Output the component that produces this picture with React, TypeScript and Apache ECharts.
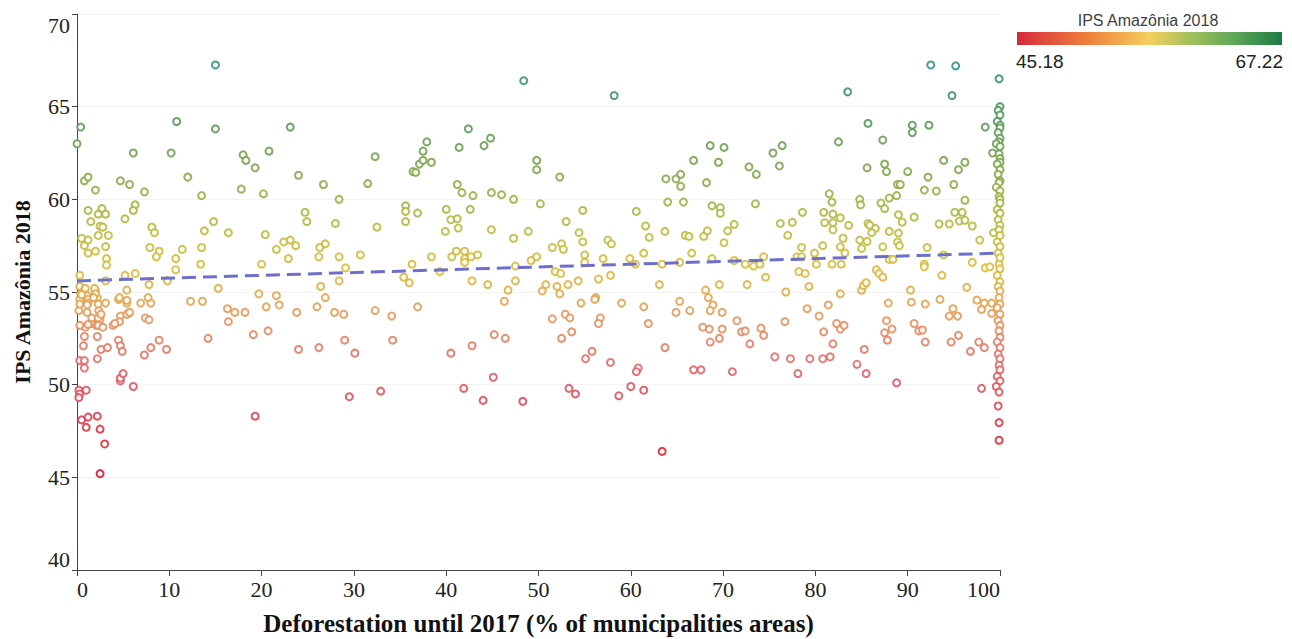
import React, { useEffect, useRef } from "react";
import * as echarts from "echarts";

// Deforestation (%) vs IPS Amazônia 2018
const pointsWest: number[][] = [
  [0.0, 63.0], [0.4, 63.9], [15.0, 67.25], [10.8, 64.2], [15.0, 63.8], [23.1, 63.9], [6.1, 62.5], [10.2, 62.5],
  [18.0, 62.4], [18.3, 62.1], [20.8, 62.6], [19.3, 61.7], [0.8, 61.0], [1.2, 61.2], [12.0, 61.2], [24.0, 61.3],
  [4.7, 61.0], [5.7, 60.8], [7.3, 60.4], [2.0, 60.5], [13.5, 60.2], [17.8, 60.55], [20.2, 60.3], [26.7, 60.8],
  [28.4, 60.0], [1.2, 59.4], [2.7, 59.5], [3.1, 59.2], [2.3, 59.2], [5.2, 58.95], [6.3, 59.7], [6.1, 59.4],
  [1.5, 58.8], [2.5, 58.55], [2.8, 58.5], [2.3, 58.05], [3.4, 58.05], [0.5, 57.9], [1.2, 57.8], [0.8, 57.5],
  [3.1, 57.45], [1.2, 57.1], [2.0, 57.2], [3.2, 56.8], [3.2, 56.45], [8.1, 58.5], [8.4, 58.2], [7.9, 57.4],
  [8.9, 57.2], [8.6, 56.9], [10.7, 56.8], [10.7, 56.2], [11.4, 57.3], [13.8, 58.3], [14.8, 58.8], [13.5, 57.4],
  [13.4, 56.5], [16.4, 58.2], [20.4, 58.1], [20.0, 56.5], [21.6, 57.3], [22.4, 57.7], [23.1, 57.8], [23.7, 57.5],
  [22.9, 56.8], [24.7, 59.3], [24.9, 58.8], [26.3, 57.4], [26.9, 57.6], [26.2, 56.9], [28.0, 58.7], [28.4, 56.9],
  [0.3, 55.9], [5.2, 55.9], [6.3, 56.0], [9.8, 55.6], [7.8, 55.4], [15.3, 55.2], [3.1, 55.6],
  [0.3, 55.3], [0.8, 55.1], [0.7, 54.9], [1.1, 54.8], [0.9, 55.2], [0.3, 54.6], [1.2, 54.6], [0.4, 54.9],
  [2.0, 55.1], [2.2, 54.7], [4.5, 54.6], [5.4, 55.1], [5.4, 54.4], [6.9, 54.4], [8.0, 54.4], [7.7, 54.7],
  [19.7, 54.9], [21.6, 54.8], [26.4, 55.3], [28.4, 55.6], [26.9, 54.7],
  [1.9, 55.2], [2.0, 54.9], [1.8, 54.7], [0.5, 54.85], [0.2, 54.0], [2.35, 54.0], [2.5, 53.5], [5.6, 53.85],
  [4.7, 53.7], [4.6, 53.4], [3.9, 53.2], [0.9, 53.1], [1.6, 53.3], [2.1, 53.2], [1.6, 53.6], [1.2, 54.4],
  [5.4, 54.55], [4.6, 54.7],
  [0.3, 54.35], [1.1, 54.3], [2.3, 54.35], [3.1, 54.4],
  [0.3, 53.2], [1.2, 53.25], [2.3, 53.2], [2.8, 53.1], [4.1, 53.3], [5.4, 53.8], [5.7, 53.9],
  [1.1, 53.9], [2.3, 53.6], [2.6, 53.8], [0.8, 52.6], [2.2, 52.6], [4.5, 52.4], [4.7, 52.1], [4.9, 51.8],
  [0.7, 52.1], [2.6, 51.9], [3.3, 52.0], [7.4, 53.6], [7.8, 53.5], [7.3, 51.6], [8.0, 52.0], [8.9, 52.4],
  [9.7, 51.9], [0.3, 51.3], [0.8, 51.3], [0.8, 50.9], [2.2, 51.4], [4.7, 50.2], [4.7, 50.35], [5.0, 50.6],
  [6.1, 49.9], [0.2, 49.7], [0.3, 49.5], [0.2, 49.3], [1.0, 49.7], [0.5, 48.1], [1.2, 48.25], [1.0, 47.7],
  [2.2, 48.3], [2.5, 47.6], [3.0, 46.8], [2.5, 45.2], [19.3, 48.3], [12.3, 54.5], [13.6, 54.5], [16.3, 54.1],
  [17.1, 53.9], [18.2, 53.9], [16.4, 53.4], [20.5, 54.2], [21.9, 54.3], [23.8, 53.9], [26.0, 54.2], [27.9, 53.9],
  [14.2, 52.5], [19.1, 52.7], [20.7, 52.9], [24.0, 51.9], [26.2, 52.0],
];

const pointsCentre: number[][] = [
  [48.4, 66.4], [58.2, 65.6], [42.4, 63.8], [37.9, 63.1], [37.5, 62.6], [37.1, 61.9], [37.5, 62.1], [38.4, 62.0],
  [32.3, 62.3], [36.4, 61.5], [36.7, 61.45], [41.4, 62.8], [44.1, 62.9], [44.8, 63.3], [49.8, 62.1], [49.8, 61.6],
  [52.3, 61.2], [31.5, 60.85], [32.5, 58.5], [35.6, 59.65], [35.6, 59.35], [35.6, 58.8], [36.9, 59.26], [41.2, 60.8],
  [41.7, 60.36], [42.9, 60.2], [44.9, 60.36], [46.0, 60.25], [47.3, 60.0], [50.2, 59.76], [40.0, 59.46], [40.5, 58.9],
  [41.2, 58.95], [41.3, 58.45], [39.9, 58.27], [42.6, 59.46], [44.9, 58.36], [47.3, 57.9], [48.9, 58.27], [53.0, 58.8],
  [54.8, 59.4], [54.4, 58.2], [54.8, 57.7], [51.5, 57.4], [52.5, 57.6], [52.7, 57.3], [55.0, 57.0], [55.0, 56.6],
  [57.5, 57.8], [57.9, 57.6], [60.6, 59.35], [61.6, 58.56], [62.0, 57.95], [63.8, 61.1], [64.0, 59.85], [63.7, 58.27],
  [61.4, 57.1], [59.9, 56.8], [60.5, 56.5], [57.0, 56.8], [30.7, 57.0], [29.1, 56.3], [36.3, 56.5], [38.4, 56.9],
  [40.6, 56.9], [41.1, 57.2], [42.0, 57.2], [42.0, 56.8], [42.0, 56.6], [42.7, 56.9], [43.4, 57.0], [35.4, 55.8],
  [36.0, 55.5], [39.3, 56.1], [42.8, 55.6], [44.5, 55.4], [47.5, 56.4], [47.5, 55.6], [46.7, 55.1], [49.2, 56.7],
  [49.8, 56.9], [51.8, 56.1], [52.4, 56.0], [52.0, 55.3], [52.3, 54.9], [53.2, 55.4], [54.3, 55.6], [56.5, 55.7],
  [50.4, 55.05], [50.8, 55.4], [56.2, 54.7], [57.8, 55.9], [63.1, 55.4],
  [28.9, 53.8], [32.3, 54.0], [34.1, 53.7], [36.9, 54.2], [46.3, 54.5], [51.5, 53.55], [52.9, 53.8], [53.4, 53.6],
  [52.5, 52.5], [53.6, 52.85], [54.6, 54.4], [56.1, 54.6], [56.7, 53.6], [56.5, 53.3], [59.0, 54.4], [61.4, 54.2],
  [61.9, 53.3], [29.0, 52.4], [30.1, 51.7], [34.2, 52.4], [40.5, 51.7], [42.8, 52.1], [45.2, 52.7], [46.4, 52.5],
  [55.1, 51.4], [55.8, 51.8], [57.8, 51.2], [63.7, 52.0], [45.1, 50.4], [29.5, 49.35], [32.9, 49.65], [41.9, 49.8],
  [44.0, 49.15], [48.3, 49.1], [53.3, 49.8], [54.0, 49.5], [60.8, 50.9], [60.6, 50.7], [60.0, 49.9], [61.4, 49.7],
  [58.7, 49.4], [63.4, 46.4],
];

const pointsEast: number[][] = [
  [92.5, 67.25], [95.2, 67.2], [94.8, 65.6], [83.5, 65.8], [99.9, 66.5], [85.7, 64.1], [90.5, 64.0], [90.5, 63.6],
  [92.3, 64.0], [98.4, 63.9], [82.5, 63.1], [87.3, 63.2], [68.6, 62.9], [70.1, 62.8], [66.8, 62.1], [69.5, 62.0],
  [75.4, 62.5], [76.4, 62.9], [76.1, 61.8], [72.8, 61.75], [73.6, 61.35], [64.9, 61.1], [65.4, 61.35], [65.4, 60.7],
  [65.7, 59.85], [68.2, 60.9], [68.8, 59.65], [69.7, 59.55], [69.7, 59.25], [73.5, 59.76], [65.9, 58.06], [66.3, 58.0],
  [67.9, 58.0], [68.3, 58.3], [70.1, 57.66], [70.5, 58.3], [71.2, 58.65], [66.6, 57.1], [68.8, 56.8], [71.2, 56.7],
  [72.4, 56.5], [73.3, 56.4], [74.0, 56.5], [74.4, 56.9], [76.2, 58.7], [77.5, 58.76], [77.0, 58.06], [78.6, 59.3],
  [78.5, 57.4], [78.0, 56.9], [78.5, 56.9], [79.9, 57.1], [80.8, 57.5], [80.1, 56.5], [78.2, 56.1], [78.9, 56.0],
  [81.5, 60.3], [81.8, 59.85], [80.9, 59.3], [81.9, 59.2], [82.7, 59.0], [81.0, 58.74], [81.9, 58.74], [81.9, 58.36],
  [83.6, 58.6], [83.0, 57.9], [82.7, 57.44], [83.2, 57.1], [81.8, 56.5], [82.8, 56.5], [84.8, 60.0], [84.9, 59.7],
  [85.6, 61.7], [85.7, 58.7], [85.9, 58.6], [86.5, 58.43], [86.1, 58.2], [84.8, 57.8], [85.0, 57.35], [85.6, 57.73],
  [87.3, 57.44], [88.0, 56.76], [88.4, 56.76], [87.1, 59.8], [87.5, 59.5], [88.0, 60.07], [88.8, 60.2], [88.9, 60.8],
  [89.2, 60.8], [87.5, 61.9], [87.7, 61.5], [88.0, 58.27], [89.0, 59.17], [89.4, 58.77], [89.0, 58.18], [88.9, 57.7],
  [89.1, 57.5], [90.7, 59.04], [90.0, 61.5], [92.2, 61.2], [91.8, 60.5], [93.1, 60.45], [93.9, 62.1], [95.5, 61.6],
  [96.2, 62.0], [95.0, 60.8], [96.2, 59.95], [95.1, 59.3], [95.9, 59.3], [95.6, 58.83], [96.2, 58.87], [97.0, 58.56],
  [97.8, 57.8], [93.4, 58.67], [94.5, 58.67], [99.3, 58.2], [99.2, 62.5], [92.1, 57.4], [93.9, 57.0], [91.8, 56.5],
  [91.8, 56.36], [93.7, 55.9], [97.0, 56.6], [98.4, 56.3], [98.9, 56.36], [63.4, 56.5], [65.3, 56.6], [69.6, 55.4],
  [68.1, 55.1], [68.4, 54.7], [72.6, 55.4], [74.6, 55.8], [76.8, 55.0], [79.3, 55.3], [82.7, 54.9], [85.0, 55.1],
  [85.2, 55.35], [85.5, 55.5], [86.6, 56.2], [86.9, 56.0], [87.3, 55.8], [90.3, 55.1], [96.4, 55.25], [97.5, 54.56],
  [93.5, 54.6],
  [65.3, 54.5], [68.9, 54.3], [68.6, 54.0], [66.4, 54.0], [64.9, 53.9], [69.9, 53.9], [67.8, 53.1], [68.5, 53.0],
  [69.9, 53.0], [68.6, 52.3], [69.6, 52.5], [71.5, 53.45], [72.0, 52.85], [72.4, 52.9], [72.9, 52.2], [74.1, 53.05],
  [74.4, 52.66], [76.7, 53.4], [79.1, 54.1], [80.4, 53.7], [81.4, 54.3], [80.9, 52.85], [81.9, 52.2], [82.3, 53.3],
  [82.7, 53.0], [83.1, 53.2], [87.9, 54.4], [87.7, 53.45], [87.5, 52.8], [88.3, 53.0], [87.8, 52.4], [85.3, 51.9],
  [84.5, 51.1], [85.5, 50.6], [88.8, 50.1], [90.4, 54.45], [91.9, 54.35], [90.7, 53.3], [91.2, 52.9], [91.6, 52.95],
  [91.9, 52.3], [94.7, 52.3], [95.5, 52.66], [94.5, 53.7], [95.4, 53.7], [94.9, 54.1], [98.0, 54.06], [98.3, 54.4],
  [99.1, 53.85], [99.1, 54.4], [97.7, 52.3], [98.3, 52.0], [96.8, 51.8], [98.0, 49.8], [66.8, 50.8], [67.6, 50.8],
  [71.0, 50.7], [75.6, 51.5], [77.3, 51.4], [79.4, 51.4], [80.8, 51.4], [81.6, 51.5], [78.1, 50.6],
];

const pointsEdge: number[][] = [
  [100, 65.0], [99.8, 64.8], [100, 64.55], [99.7, 64.2], [100, 64.0], [100, 63.85], [99.8, 63.6], [100, 63.3],
  [99.9, 63.1], [99.6, 63.0], [100, 62.85], [99.9, 62.45], [100, 62.2], [100, 62.0], [99.7, 61.9], [100, 61.6],
  [99.8, 61.35], [100, 61.0], [99.9, 60.9], [99.6, 60.65], [100, 60.45], [99.9, 60.15], [100, 60.0], [100, 59.8],
  [99.7, 59.45], [100, 59.25], [99.8, 58.9], [100, 58.6], [99.9, 58.35], [100, 58.05], [99.7, 57.7], [100, 57.45],
  [99.8, 57.1], [100, 56.85], [99.9, 56.5], [100, 56.25], [99.7, 55.9], [100, 55.55], [99.8, 55.3], [100, 55.05],
  [99.9, 54.7], [100, 54.35], [99.7, 54.15], [100, 53.8], [99.8, 53.45], [100, 53.2], [99.9, 52.9], [100, 52.55],
  [99.7, 52.3], [100, 52.0], [99.8, 51.65], [100, 51.4], [99.9, 51.05], [100, 50.8], [99.7, 50.45], [100, 50.2],
  [99.6, 49.9], [99.9, 49.6], [99.8, 48.85], [99.9, 47.95], [99.9, 47.0],
];

const trendLine: number[][] = [[0, 55.6], [100, 57.1]];

const colorMin = 45.18;
const colorMax = 67.22;
const pointColors = ["#e6142a", "#e13a4a", "#df636c", "#e69660", "#dcbd3c", "#b3bb40", "#80a54e", "#55985e", "#2f9282"];
const legendStops = ["#d42a3c", "#ee7a3c", "#f5cf5e", "#a3c15c", "#5fa65a", "#1f7a45"];
const legendOffsets = [0, 0.25, 0.5, 0.65, 0.82, 1];
const legendTitle = "IPS Amazônia 2018";
const xName = "Deforestation until 2017 (% of municipalities areas)";
const yName = "IPS Amazônia 2018";

const SERIF = '"Liberation Serif", "Times New Roman", serif';
const SANS = '"Liberation Sans", Arial, sans-serif';

export default function App() {
  const ref = useRef<HTMLDivElement>(null);
  useEffect(() => {
    if (!ref.current) return;
    const chart = echarts.init(ref.current, undefined, { renderer: "svg" });
    const allPoints = [...pointsWest, ...pointsCentre, ...pointsEast, ...pointsEdge];
    const gradient = new echarts.graphic.LinearGradient(
      0, 0, 1, 0,
      legendStops.map((c, i) => ({ offset: legendOffsets[i], color: c }))
    );
    chart.setOption({
      animation: false,
      backgroundColor: "#ffffff",
      grid: { left: 77, right: 292, top: 14, bottom: 69, outerBoundsMode: "none" },
      xAxis: {
        type: "value",
        min: 0,
        max: 100,
        interval: 10,
        name: xName,
        nameLocation: "middle",
        nameGap: 41,
        nameTextStyle: { fontFamily: SERIF, fontWeight: "bold", fontSize: 25, color: "#111" },
        axisLine: { show: true, onZero: false, lineStyle: { color: "#444", width: 1 } },
        axisTick: { show: true, length: 6, lineStyle: { color: "#444" } },
        axisLabel: {
          fontFamily: SERIF, fontSize: 22, color: "#222", margin: 8,
          alignMinLabel: "left", alignMaxLabel: "right",
        },
        splitLine: { show: false },
      },
      yAxis: {
        type: "value",
        min: 40,
        max: 70,
        interval: 5,
        name: yName,
        nameLocation: "middle",
        nameGap: 44,
        nameTextStyle: { fontFamily: SERIF, fontWeight: "bold", fontSize: 22, color: "#111" },
        axisLine: { show: true, lineStyle: { color: "#444", width: 1 } },
        axisTick: { show: true, length: 5, lineStyle: { color: "#444" } },
        axisLabel: {
          fontFamily: SERIF, fontSize: 22, color: "#222", margin: 7,
          verticalAlignMinLabel: "bottom", verticalAlignMaxLabel: "top",
        },
        splitLine: { show: true, lineStyle: { color: "#f3f3f3", width: 1 } },
      },
      visualMap: {
        type: "continuous",
        show: false,
        min: colorMin,
        max: colorMax,
        dimension: 1,
        seriesIndex: 0,
        inRange: { color: pointColors },
      },
      series: [
        {
          type: "scatter",
          data: allPoints,
          symbol: "emptyCircle",
          symbolSize: 7,
          itemStyle: { borderWidth: 1.8, opacity: 0.9 },
          z: 2,
        },
        {
          type: "line",
          data: trendLine,
          symbol: "none",
          lineStyle: { color: "#6e6ecb", width: 3, type: [14, 7] },
          z: 3,
        },
      ],
      graphic: [
        {
          type: "text",
          x: 1148,
          y: 20,
          style: {
            text: legendTitle,
            fill: "#404040",
            font: `16px ${SANS}`,
            textAlign: "center",
            textVerticalAlign: "middle",
          },
        },
        {
          type: "rect",
          shape: { x: 1017, y: 32, width: 265, height: 13 },
          style: { fill: gradient },
        },
        {
          type: "text",
          x: 1016,
          y: 61,
          style: { text: colorMin.toFixed(2), fill: "#222", font: `19px ${SANS}`, textAlign: "left", textVerticalAlign: "middle" },
        },
        {
          type: "text",
          x: 1283,
          y: 61,
          style: { text: colorMax.toFixed(2), fill: "#222", font: `19px ${SANS}`, textAlign: "right", textVerticalAlign: "middle" },
        },
      ],
    });
    return () => chart.dispose();
  }, []);
  return (
    <div
      ref={ref}
      style={{ position: "fixed", left: 0, top: 0, width: 1292, height: 639, background: "#fff" }}
    />
  );
}
